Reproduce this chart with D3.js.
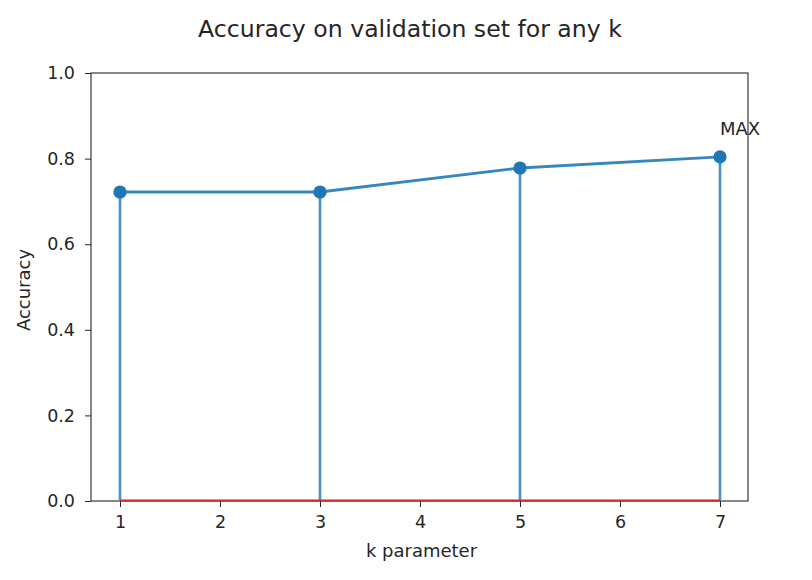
<!DOCTYPE html>
<html><head><meta charset="utf-8">
<script src="https://cdn.jsdelivr.net/npm/d3@7"></script>
<style>body{margin:0;background:#fff;} text{font-family:"DejaVu Sans",sans-serif;fill:#262626;}</style>
</head><body>
<svg id="c" width="812" height="580"></svg>
<script>
const kValues = [1, 3, 5, 7];
const accuracy = [0.722, 0.722, 0.778, 0.804];
const xTicks = [1, 2, 3, 4, 5, 6, 7];
const yTicks = [0, 0.2, 0.4, 0.6, 0.8, 1.0];
const title = "Accuracy on validation set for any k";

const svg = d3.select("#c");
const L = 91, R = 748, T = 73, B = 501;
const x = d3.scaleLinear().domain([0.71, 7.28]).range([L, R]);
const y = d3.scaleLinear().domain([0, 1]).range([B, T]);

// axes
const xa = svg.append("g").attr("transform", `translate(0,${B})`)
  .call(d3.axisBottom(x).tickValues(xTicks).tickFormat(d3.format("d")).tickSize(6).tickPadding(9));
const ya = svg.append("g").attr("transform", `translate(${L},0)`)
  .call(d3.axisLeft(y).tickValues(yTicks).tickFormat(d3.format(".1f")).tickSize(6).tickPadding(10));
[xa, ya].forEach(a => {
  a.select(".domain").remove();
  a.attr("font-size", null).attr("font-family", null);
  a.selectAll("line").attr("stroke", "#262626").attr("stroke-width", 1);
  a.selectAll("text").style("font-size", "17.5px").attr("fill", "#262626");
});

// frame
svg.append("rect").attr("x", L).attr("y", T).attr("width", R - L).attr("height", B - T)
  .attr("fill", "none").attr("stroke", "#262626").attr("stroke-width", 1.1);

// stems
svg.append("g").selectAll("line").data(kValues).join("line")
  .attr("x1", d => x(d)).attr("x2", d => x(d))
  .attr("y1", y(0)).attr("y2", (d, i) => y(accuracy[i]))
  .attr("stroke", "#4a92c8").attr("stroke-width", 2.7);

// baseline
svg.append("line").attr("x1", x(kValues[0])).attr("x2", x(kValues[kValues.length - 1]))
  .attr("y1", y(0) - 0.5).attr("y2", y(0) - 0.5).attr("stroke", "#d62728").attr("stroke-width", 2);

// line
svg.append("path").datum(kValues)
  .attr("d", d3.line().x(d => x(d)).y((d, i) => y(accuracy[i])))
  .attr("fill", "none").attr("stroke", "#3786c0").attr("stroke-width", 2.8);

// markers
svg.append("g").selectAll("circle").data(kValues).join("circle")
  .attr("cx", d => x(d)).attr("cy", (d, i) => y(accuracy[i])).attr("r", 6.6)
  .attr("fill", "#1f77b4");

// MAX annotation
const iMax = accuracy.indexOf(d3.max(accuracy));
svg.append("text").attr("x", x(kValues[iMax])).attr("y", y(accuracy[iMax] + 0.05))
  .style("font-size", "18px").text("MAX");

// title & labels
svg.append("text").attr("x", 410).attr("y", 37).attr("text-anchor", "middle")
  .style("font-size", "23.6px").text(title);
svg.append("text").attr("x", (L + R) / 2 + 2).attr("y", 557).attr("text-anchor", "middle")
  .style("font-size", "18px").text("k parameter");
svg.append("text").attr("transform", `translate(30,${(T + B) / 2 + 3}) rotate(-90)`).attr("text-anchor", "middle")
  .style("font-size", "18px").text("Accuracy");
</script>
</body></html>
